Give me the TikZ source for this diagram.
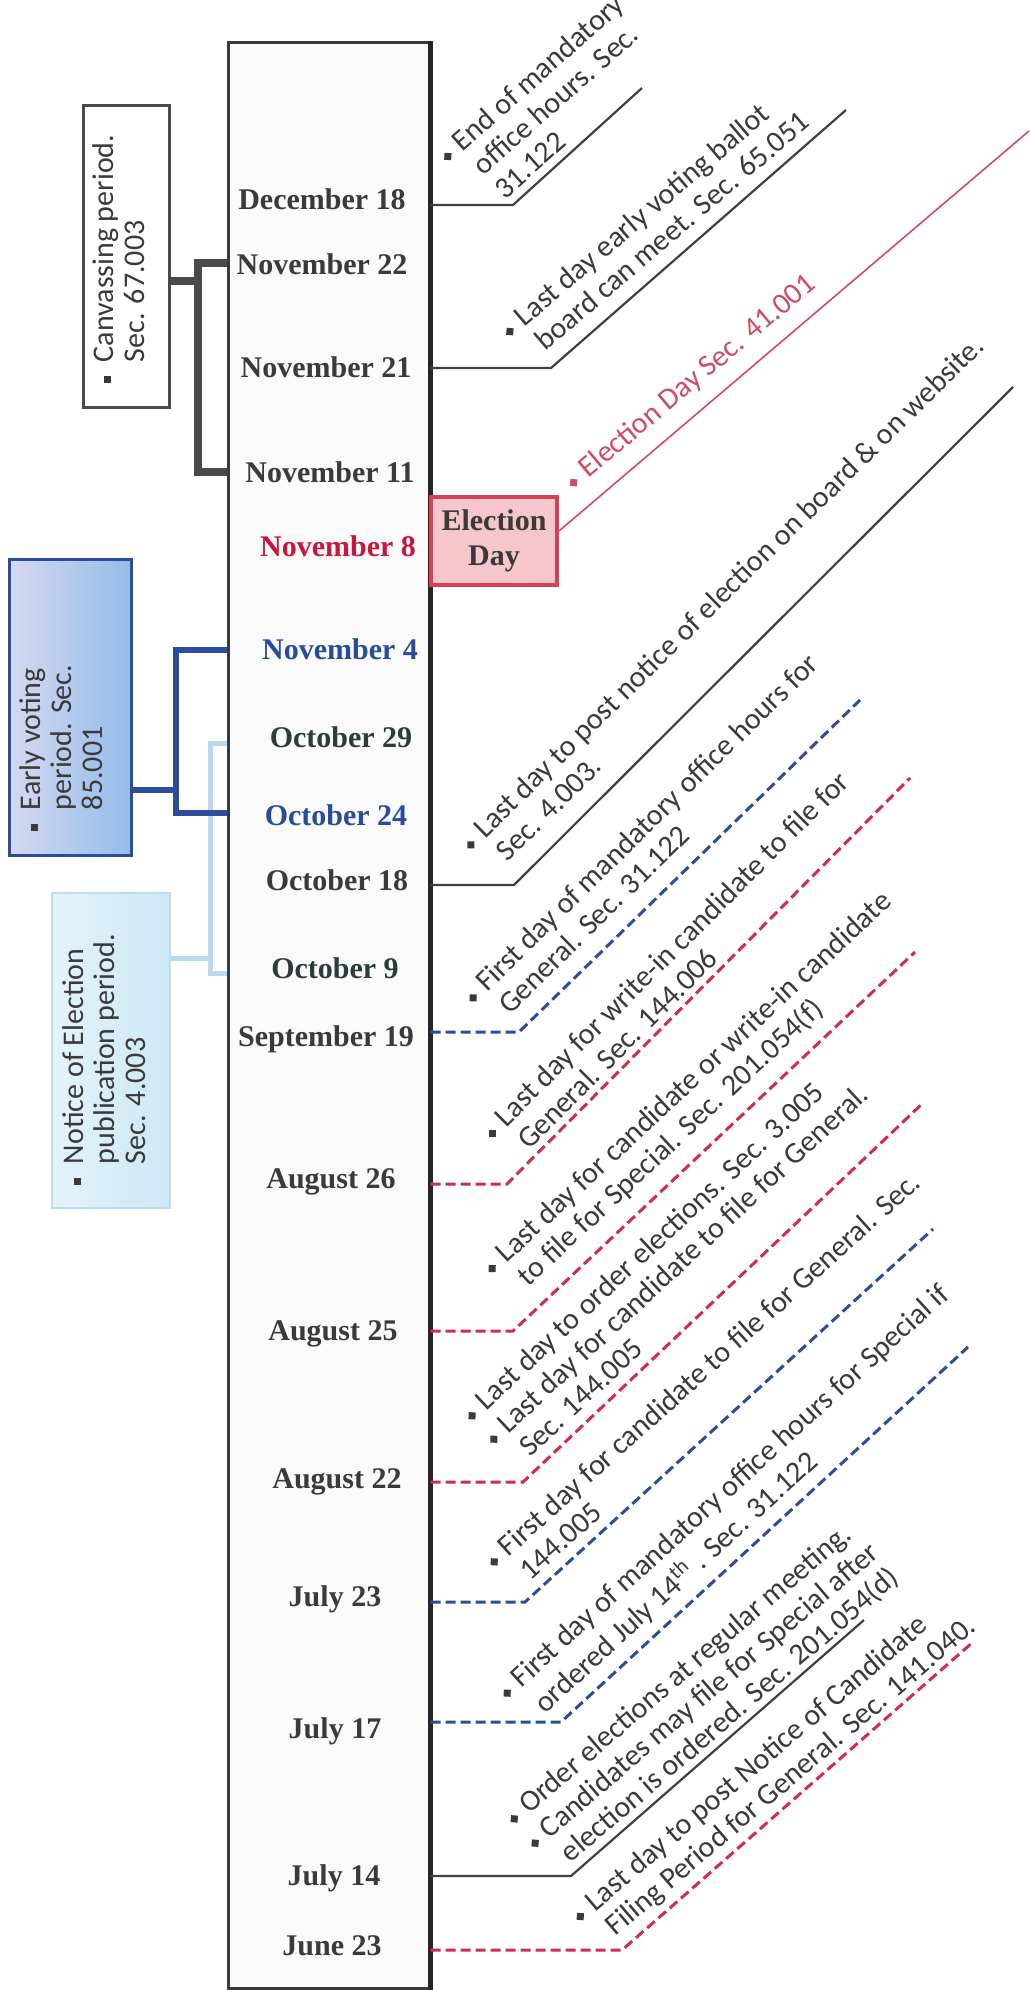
\documentclass[tikz,border=0pt]{standalone}
\usepackage{fontspec}
\usepackage{graphicx}
\setmainfont{Liberation Serif}
\newfontfamily\calfont{Carlito}
\definecolor{dgray}{HTML}{3A3A3A}
\definecolor{lgray}{HTML}{404040}
\definecolor{cgray}{HTML}{4A4A4A}
\definecolor{tred}{HTML}{D12B50}
\definecolor{lred}{HTML}{D24B66}
\definecolor{tblue}{HTML}{2C4D9C}
\definecolor{boxfill}{HTML}{FAFAFB}
\definecolor{evl}{HTML}{D6D8F0}
\definecolor{evr}{HTML}{94BCEA}
\definecolor{nl}{HTML}{E4F3FA}
\definecolor{nr}{HTML}{CCE8F5}
\definecolor{nb}{HTML}{BDDDEE}
\definecolor{lbl}{HTML}{B9DAEE}
\definecolor{edf}{HTML}{F6C6CD}
\definecolor{edb}{HTML}{D4405A}
\definecolor{dred}{HTML}{C8163E}
\definecolor{dblue}{HTML}{2A4A9C}
\definecolor{dslate}{HTML}{2E3B3B}
\newcommand{\dia}{\raisebox{0.8pt}{\rotatebox{45}{\rule{3.5pt}{3.5pt}}}}
\newcommand{\sqb}{\raisebox{1.5pt}{\rule{3.5pt}{3.5pt}}}
\newcommand{\dblk}[1]{\raisebox{-3.3pt}{\begin{tabular}[t]{@{}l@{\hspace{4.5pt}}l@{}}#1\end{tabular}}}
\newcommand{\sblk}[1]{\raisebox{-3.3pt}{\begin{tabular}[t]{@{}l@{\hspace{7pt}}l@{}}#1\end{tabular}}}
\begin{document}
\begin{tikzpicture}[x=0.5pt,y=-0.5pt,
  diag/.style={rotate=#1, anchor=base west, inner sep=0pt, text=dgray, font=\calfont\fontsize{15}{16}\selectfont},
  vtext/.style={rotate=90, anchor=base west, inner sep=0pt, text=dgray, font=\calfont\fontsize{15}{15.5}\selectfont},
  datelbl/.style={anchor=base, inner sep=0pt, font=\bfseries\fontsize{15}{18}\selectfont, text=dgray},
  gline/.style={draw=lgray, line width=1.1pt},
  redthin/.style={draw=lred, line width=0.8pt},
  bdash/.style={draw=tblue, line width=1.5pt, dash pattern=on 5pt off 2.5pt},
  rdash/.style={draw=tred, line width=1.5pt, dash pattern=on 5pt off 2.5pt},
]
\useasboundingbox (0,0) rectangle (1029,1990);
\fill[white] (0,0) rectangle (1029,1990);

% main timeline box
\node[draw=dgray, line width=1.5pt, fill=boxfill, minimum width=100.5pt, minimum height=972.5pt, inner sep=0pt] (tl) at (328.5,1015.5) {};
\draw[line width=2.5pt, draw=black!85] (tl.north east) -- (tl.south east);

% left boxes
\node[draw=cgray, line width=1.5pt, fill=white, minimum width=43pt, minimum height=150.5pt, inner sep=0pt] (canv) at (126,256.5) {};
\node[draw=tblue, line width=1.5pt, left color=evl, right color=evr, minimum width=61pt, minimum height=148pt, inner sep=0pt] (ev) at (70,707) {};
\node[draw=nb, line width=1.2pt, left color=nl, right color=nr, minimum width=59pt, minimum height=157.5pt, inner sep=0pt] (note) at (111,1050.5) {};

\node[vtext] (canvt) at (107,383.5) {\sblk{\sqb & Canvassing period.\\ & Sec. 67.003}};
\node[vtext] (evt) at (34,831.5) {\sblk{\sqb & Early voting\\ & period. Sec.\\ & 85.001}};
\node[vtext] (notet) at (77,1185.5) {\sblk{\sqb & Notice of Election\\ & publication period.\\ & Sec. 4.003}};

% brackets
\draw[line width=4pt, draw=cgray] (canv.east |- 0,281) -- (198,281);
\draw[line width=4pt, draw=cgray] (tl.west |- 0,263) -- (198,263) -- (198,472) -- (tl.west |- 0,472);
\draw[line width=2.5pt, draw=lbl] (note.east |- 0,958) -- (210,958);
\draw[line width=2.5pt, draw=lbl] (tl.west |- 0,743) -- (210,743) -- (210,973) -- (tl.west |- 0,973);
\draw[line width=3pt, draw=tblue] (ev.east |- 0,790) -- (176,790);
\draw[line width=3pt, draw=tblue] (tl.west |- 0,650) -- (176,650) -- (176,813) -- (tl.west |- 0,813);

% dates
\node[datelbl] (d1) at (322,210) {December 18};
\node[datelbl] (d2) at (322,275) {November 22};
\node[datelbl] (d3) at (326,378) {November 21};
\node[datelbl] (d4) at (330,482) {November 11};
\node[datelbl, text=dred] (d5) at (338,556) {November 8};
\node[datelbl, text=dblue] (d6) at (340,659) {November 4};
\node[datelbl, text=dslate] (d7) at (341,747) {October 29};
\node[datelbl, text=dblue] (d8) at (336,825) {October 24};
\node[datelbl] (d9) at (337,890) {October 18};
\node[datelbl, text=dslate] (d10) at (335,978) {October 9};
\node[datelbl] (d11) at (326,1046) {September 19};
\node[datelbl] (d12) at (331,1188) {August 26};
\node[datelbl] (d13) at (333,1340) {August 25};
\node[datelbl] (d14) at (337,1488) {August 22};
\node[datelbl] (d15) at (335,1606) {July 23};
\node[datelbl] (d16) at (335,1738) {July 17};
\node[datelbl] (d17) at (334,1885) {July 14};
\node[datelbl] (d18) at (332,1955) {June 23};

% election day box
\node[draw=edb, line width=2pt, fill=edf, minimum width=63pt, minimum height=44pt, inner sep=0pt, align=center, font=\bfseries\fontsize{15}{17.5}\selectfont, text=dgray] (eday) at (494,541) {Election\\Day};

% connectors
\draw[gline] (tl.east |- 0,205) -- (513,205) -- (642,88);
\draw[gline] (tl.east |- 0,368) -- (551,368) -- (846,110);
\draw[redthin] ([yshift=5pt]eday.east) -- (1029,131);
\draw[gline] (tl.east |- 0,885) -- (514,885) -- (1013,387);
\draw[bdash] (tl.east |- 0,1032) -- (519,1032) -- (860,700);
\draw[rdash] (tl.east |- 0,1184) -- (507,1184) -- (910,778);
\draw[rdash] (tl.east |- 0,1331) -- (513,1331) -- (915,952);
\draw[rdash] (tl.east |- 0,1482) -- (523,1482) -- (923,1103);
\draw[bdash] (tl.east |- 0,1602) -- (525,1602) -- (933,1229);
\draw[bdash] (tl.east |- 0,1722) -- (561,1722) -- (968,1347);
\draw[gline] (tl.east |- 0,1876) -- (571,1876) -- (864,1620);
\draw[rdash] (tl.east |- 0,1950) -- (622,1950) -- (973,1642);

% diagonal texts
\node[diag=41.5] (t1) at (443.8,160) {\dblk{\dia & End of mandatory\\ & office hours. Sec.\\ & 31.122}};
\node[diag=40.5] (t2) at (505.8,335) {\dblk{\dia & Last day early voting ballot\\ & board can meet. Sec. 65.051}};
\node[diag=40, text=lred] (t3) at (569.5,486) {\dblk{\dia & Election Day Sec. 41.001}};
\node[diag=44.5] (t4) at (467,848.5) {\dblk{\dia & Last day to post notice of election on board \& on website.\\ & Sec. 4.003.}};
\node[diag=44.5] (t5) at (469.3,1001.5) {\dblk{\dia & First day of mandatory office hours for\\ & General. Sec. 31.122}};
\node[diag=45] (t6) at (488.3,1137) {\dblk{\dia & Last day for write-in candidate to file for\\ & General. Sec. 144.006}};
\node[diag=43] (t7) at (488.2,1272.2) {\dblk{\dia & Last day for candidate or write-in candidate\\ & to file for Special. Sec. 201.054(f)}};
\node[diag=43] (t8) at (468.1,1419.4) {\dblk{\dia & Last day to order elections. Sec. 3.005\\ \dia & Last day for candidate to file for General.\\ & Sec. 144.005}};
\node[diag=42] (t9) at (490.2,1565.4) {\dblk{\dia & First day for candidate to file for General. Sec.\\ & 144.005}};
\node[diag=42.4] (t10) at (503.2,1696.7) {\dblk{\dia & First day of mandatory office hours for Special if\\ & ordered July 14\textsuperscript{th} . Sec. 31.122}};
\node[diag=40.6] (t11) at (510.2,1822.3) {\dblk{\dia & Order elections at regular meeting.\\ \dia & Candidates may file for Special after\\ & election is ordered. Sec. 201.054(d)}};
\node[diag=40.4] (t12) at (576.2,1919.9) {\dblk{\dia & Last day to post Notice of Candidate\\ & Filing Period for General. Sec. 141.040.}};
\end{tikzpicture}
\end{document}
